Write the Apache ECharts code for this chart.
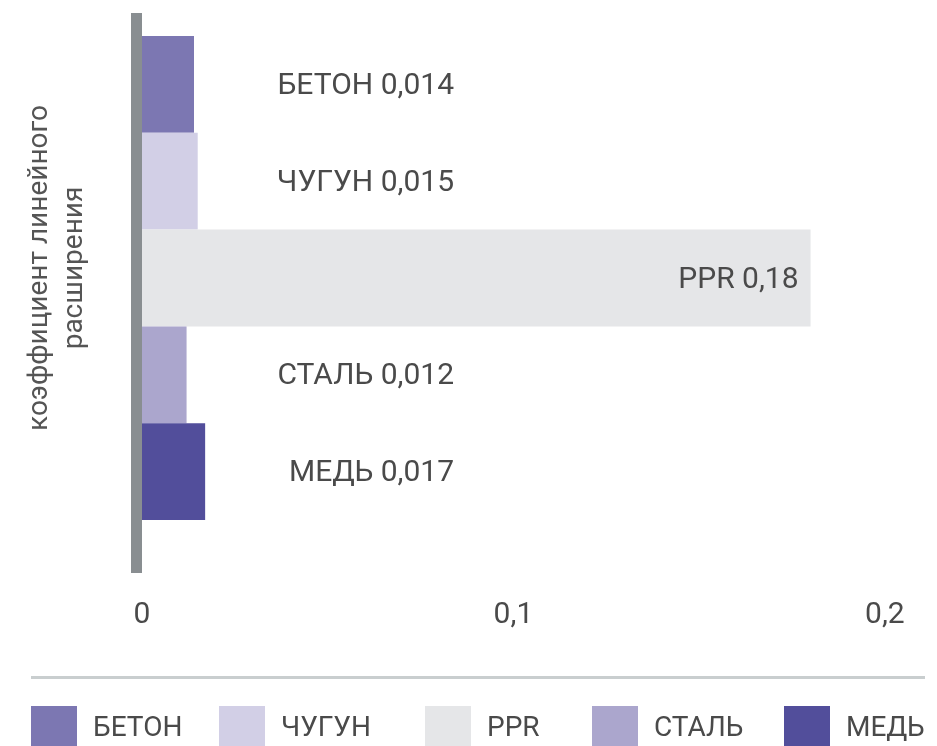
<!DOCTYPE html>
<html>
<head>
<meta charset="utf-8">
<script src="https://cdn.jsdelivr.net/npm/echarts@6/dist/echarts.min.js"></script>
<style>
  html, body { margin: 0; padding: 0; background: #ffffff; }
  #chart { width: 937px; height: 746px; }
</style>
</head>
<body>
<div id="chart"></div>
<script>
// Materials and their linear expansion coefficients
const materials = ['БЕТОН', 'ЧУГУН', 'PPR', 'СТАЛЬ', 'МЕДЬ'];
const coefficients = [0.014, 0.015, 0.18, 0.012, 0.017];
const barColors = ['#7c77b2', '#d2cfe6', '#e5e6e8', '#aba6cd', '#524e9b'];
const axisTicks = [0, 0.1, 0.2];

// left edge of each legend entry along the bottom row
const legendLefts = [31, 219, 425, 592, 784];

const textColor = '#4a4a4a';
const fontFamily = 'Roboto, "Noto Sans", sans-serif';

const fmt = v => String(+v.toFixed(3)).replace('.', ',');

const series = materials.map((name, i) => ({
  name: name,
  type: 'bar',
  xAxisIndex: 0,
  yAxisIndex: 0,
  barGap: '0%',
  barCategoryGap: '0%',
  itemStyle: { color: barColors[i] },
  label: name === 'PPR'
    ? {
        show: true, position: 'insideRight', distance: 12, offset: [0, 2],
        color: textColor, fontSize: 30, fontFamily: fontFamily,
        formatter: p => p.seriesName + ' ' + fmt(p.value)
      }
    : {
        show: true, position: [312, '50%'], align: 'right', verticalAlign: 'middle',
        offset: [0, 2],
        color: textColor, fontSize: 30, fontFamily: fontFamily,
        formatter: p => p.seriesName + ' ' + fmt(p.value)
      },
  emphasis: { disabled: true },
  data: [coefficients[i]]
}));

const legends = materials.map((name, i) => ({
  data: [name],
  left: legendLefts[i],
  top: 706,
  padding: 0,
  orient: 'horizontal',
  icon: 'rect',
  itemWidth: 46,
  itemHeight: 46,
  selectedMode: false,
  textStyle: {
    fontSize: 28,
    color: textColor,
    fontFamily: fontFamily,
    padding: [0, 0, 0, 11]
  }
}));

const chart = echarts.init(document.getElementById('chart'), null, { renderer: 'canvas' });

chart.setOption({
  animation: false,
  textStyle: { fontFamily: fontFamily },
  grid: [
    { left: 142, right: 15, top: 36, bottom: 226 },
    { left: 136, right: 15, top: 13, bottom: 173 }
  ],
  xAxis: [
    {
      gridIndex: 0,
      type: 'value',
      min: 0,
      max: 0.21,
      interval: 0.1,
      axisLine: { show: false },
      axisTick: { show: false },
      splitLine: { show: false },
      axisLabel: {
        margin: 80,
        fontSize: 30,
        color: textColor,
        fontFamily: fontFamily,
        formatter: v => axisTicks.some(t => Math.abs(t - v) < 1e-9) ? fmt(v) : ''
      }
    },
    { gridIndex: 1, type: 'value', show: false }
  ],
  yAxis: [
    {
      gridIndex: 0,
      type: 'category',
      inverse: true,
      data: [''],
      axisLine: { show: false },
      axisTick: { show: false },
      axisLabel: { show: false },
      name: 'коэффициент линейного\nрасширения',
      nameLocation: 'middle',
      nameGap: 50,
      nameTextStyle: {
        fontSize: 28,
        lineHeight: 35,
        color: '#555555',
        fontFamily: fontFamily,
        padding: [0, 0, 0, 20]
      }
    },
    {
      gridIndex: 1,
      type: 'category',
      data: [''],
      axisLine: { show: true, lineStyle: { color: '#898e91', width: 11, cap: 'butt' } },
      axisTick: { show: false },
      axisLabel: { show: false }
    }
  ],
  legend: legends,
  graphic: [
    {
      type: 'rect',
      shape: { x: 31, y: 676, width: 894, height: 3 },
      style: { fill: '#c9cecf' },
      silent: true
    }
  ],
  series: series
});
</script>
</body>
</html>
